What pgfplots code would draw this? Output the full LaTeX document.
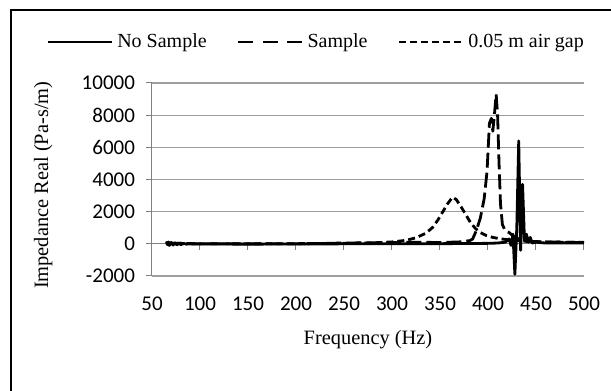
\documentclass[border=0pt]{standalone}
\usepackage{fontspec}
\setmainfont{Liberation Serif}
\newfontfamily\carlito{Carlito}
\usepackage{pgfplots}
\pgfplotsset{compat=1.18}
\pgfplotsset{
  legline/.style={legend image code/.code={\draw[##1] (0pt,0pt) -- (32pt,0pt);}},
  leglineB/.style={legend image code/.code={\draw[##1, dash pattern=on 7.5pt off 4.75pt] (0pt,0pt) -- (32pt,0pt);}},
}
\begin{document}
\begin{tikzpicture}
\useasboundingbox (-76pt,-57.5pt) rectangle (229.5pt,138pt);
\draw[line width=1.4pt] (-70.5pt,-80pt) -- (-70.5pt,133pt) -- (260pt,133pt);
\begin{axis}[
  scale only axis, width=216pt, height=96.5pt,
  xmin=50, xmax=500, ymin=-2000, ymax=10000,
  xtick={50,100,...,500}, ytick={-2000,0,...,10000},
  scaled ticks=false,
  axis x line*=bottom, axis y line*=left,
  x axis line style={draw=none},
  y axis line style={draw=black!50, line width=0.5pt},
  xtick style={draw=none},
  ytick style={draw=black!50, line width=0.5pt},
  tick align=outside, major tick length=3pt,
  ymajorgrids, grid style={draw=black!38, line width=0.6pt},
  /pgf/number format/assume math mode=true,
  /pgf/number format/set thousands separator={},
  ticklabel style={font=\carlito\fontsize{10.5}{12}\selectfont},
  yticklabel style={xshift=-2pt},
  xticklabel style={yshift=-4pt},
  xlabel={Frequency (Hz)},
  ylabel={Impedance Real (Pa-s/m)},
  label style={font=\fontsize{10.2}{12}\selectfont},
  xlabel style={at={(axis description cs:0.5,-0.332)}, anchor=center},
  ylabel style={at={(axis description cs:-0.252,0.47)}, anchor=center, rotate=0},
  legend columns=3,
  legend style={draw=none, fill=none, at={(axis description cs:-0.259,1.2124)}, anchor=west,
    font=\fontsize{10}{12}\selectfont,
    nodes={inner xsep=0pt},
    /tikz/every odd column/.append style={column sep=2pt},
    /tikz/every even column/.append style={column sep=15pt}},
  legline,
  every axis plot/.append style={black, line width=1.4pt, line join=round},
  clip=false,
]
\draw[black!50, line width=0.6pt] (axis cs:50,0) -- (axis cs:500,0);
\pgfplotsinvokeforeach{100,150,...,500}{\draw[black!50, line width=0.5pt] (axis cs:#1,0) -- ++(0pt,-3pt);}
\addplot[solid] coordinates {
(65,150) (66,-50) (67,120) (68,-100) (70,80) (72,-80) (74,60) (76,-60) (78,40) (80,-50)
(83,20) (86,-20) (90,0) (100,-10) (150,-20) (200,-10) (250,0) (300,0) (350,10) (380,20)
(400,30) (410,50) (418,100) (422,300) (424,-100) (426,600) (428,-1900) (430,1000)
(432,6400) (434,-400) (436,3700) (438,200) (440,600) (442,100) (444,400) (446,50)
(450,100) (460,50) (480,60) (500,50)
};
\addlegendentry{No Sample}
\addplot[dash pattern=on 7.5pt off 2.5pt, leglineB] coordinates {
(65,50) (100,0) (150,0) (200,0) (250,50) (300,80) (330,100) (350,80) (370,120) (381,200)
(384,300) (388,850) (392,1600) (396,2800) (399,4500) (401.5,7500) (403.5,7800) (405,7000)
(406.5,7900) (408.5,9300) (410,8000) (411.5,5000) (413,2500) (415,1200) (418,800)
(422,700) (426,500) (430,350) (436,250) (445,150) (460,120) (480,100) (500,80)
};
\addlegendentry{Sample}
\addplot[dash pattern=on 3.5pt off 2pt] coordinates {
(65,50) (100,0) (150,0) (200,10) (250,30) (280,60) (300,120) (315,220) (325,380) (335,650)
(342,1000) (348,1500) (353,2000) (358,2500) (363,2900) (367,2750) (372,2300) (377,1800)
(382,1300) (387,950) (392,700) (398,520) (405,400) (412,320) (420,260) (430,200)
(440,150) (460,120) (480,100) (500,90)
};
\addlegendentry{0.05 m air gap}
\end{axis}
\end{tikzpicture}
\end{document}
